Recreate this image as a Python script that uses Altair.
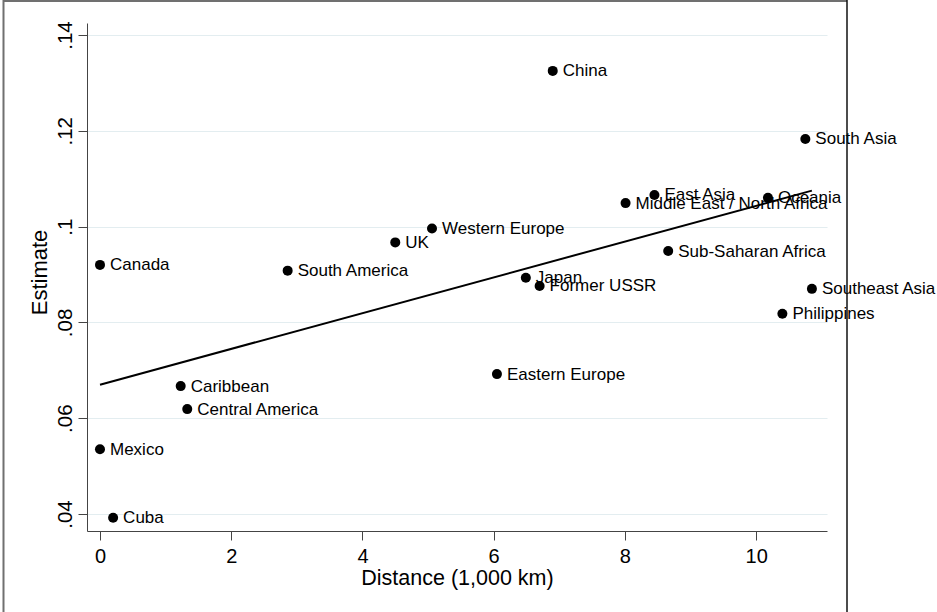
import altair as alt
import pandas as pd

# Regional estimates against distance
regions = [
    "China", "South Asia", "East Asia", "Middle East / North Africa", "Oceania",
    "Sub-Saharan Africa", "Southeast Asia", "Philippines", "Canada",
    "South America", "UK", "Western Europe", "Japan", "Former USSR",
    "Eastern Europe", "Caribbean", "Central America", "Mexico", "Cuba",
]
distance = [
    6.90, 10.75, 8.45, 8.01, 10.18,
    8.66, 10.85, 10.40, 0.00,
    2.86, 4.50, 5.06, 6.49, 6.70,
    6.05, 1.23, 1.33, 0.00, 0.20,
]
estimate = [
    0.1325, 0.1183, 0.1066, 0.1049, 0.1060,
    0.0949, 0.0870, 0.0818, 0.0920,
    0.0908, 0.0967, 0.0996, 0.0893, 0.0876,
    0.0692, 0.0667, 0.0619, 0.0535, 0.0392,
]

x_ticks = [0, 2, 4, 6, 8, 10]
y_ticks = [0.04, 0.06, 0.08, 0.10, 0.12, 0.14]

df = pd.DataFrame({"region": regions, "distance": distance, "estimate": estimate})

FONT = "Liberation Sans"
W, H = 740, 508

x_enc = alt.X(
    "distance:Q",
    scale=alt.Scale(domain=[-0.198, 11.08], nice=False, zero=False),
    axis=alt.Axis(
        values=x_ticks, grid=False, tickSize=9, labelPadding=6,
        labelFontSize=20, labelFont=FONT, labelColor="black",
        domainColor="#444", tickColor="#444",
        title="Distance (1,000 km)", titleFont=FONT, titleFontSize=21.5,
        titleFontWeight="normal", titleColor="black",
        titleX=W / 2, titleY=53, titleAlign="center", titleBaseline="alphabetic",
    ),
)
y_enc = alt.Y(
    "estimate:Q",
    scale=alt.Scale(domain=[0.03645, 0.1425], nice=False, zero=False),
    axis=alt.Axis(
        values=y_ticks, grid=True, gridColor="#e3edf0", gridWidth=1.2,
        tickSize=9, labelPadding=7, labelAngle=270, labelAlign="center",
        labelBaseline="alphabetic", labelFontSize=20.5, labelFont=FONT,
        labelColor="black", labelExpr="substring(format(datum.value, '.2~f'), 1)",
        domainColor="#444", tickColor="#444",
        title="Estimate", titleFont=FONT, titleFontSize=22,
        titleFontWeight="normal", titleColor="black", titleAngle=270,
        titleX=-41, titleY=249, titleAlign="center", titleBaseline="alphabetic",
    ),
)

base = alt.Chart(df)

points = base.mark_circle(size=100, color="black", opacity=1).encode(x=x_enc, y=y_enc)

labels = base.mark_text(
    align="left", baseline="middle", dx=10, dy=0.5, fontSize=17, font=FONT, color="black"
).encode(x=x_enc, y=y_enc, text="region:N")

fit = base.transform_regression("distance", "estimate").mark_line(
    color="black", strokeWidth=2
).encode(x=x_enc, y=y_enc)

# frame around the graph region
one = pd.DataFrame({"k": [0]})
frame_top = alt.Chart(one).mark_rule(color="#707070", strokeWidth=2).encode(
    x=alt.value(-84), x2=alt.value(760), y=alt.value(-22)
)
frame_left = alt.Chart(one).mark_rule(color="#707070", strokeWidth=2).encode(
    x=alt.value(-83.5), y=alt.value(-23), y2=alt.value(589)
)
frame_right = alt.Chart(one).mark_rule(color="#111", strokeWidth=1.5).encode(
    x=alt.value(760), y=alt.value(-23), y2=alt.value(589)
)

chart = (
    alt.layer(points, labels, fit, frame_top, frame_left, frame_right)
    .properties(
        width=W, height=H,
        padding={"left": 87, "top": 23, "right": 110, "bottom": 81},
        autosize=alt.AutoSizeParams(type="none"),
        background="white",
    )
    .configure_view(stroke=None)
)

chart.save("out.html", embed_options={"renderer": "svg", "actions": False})
